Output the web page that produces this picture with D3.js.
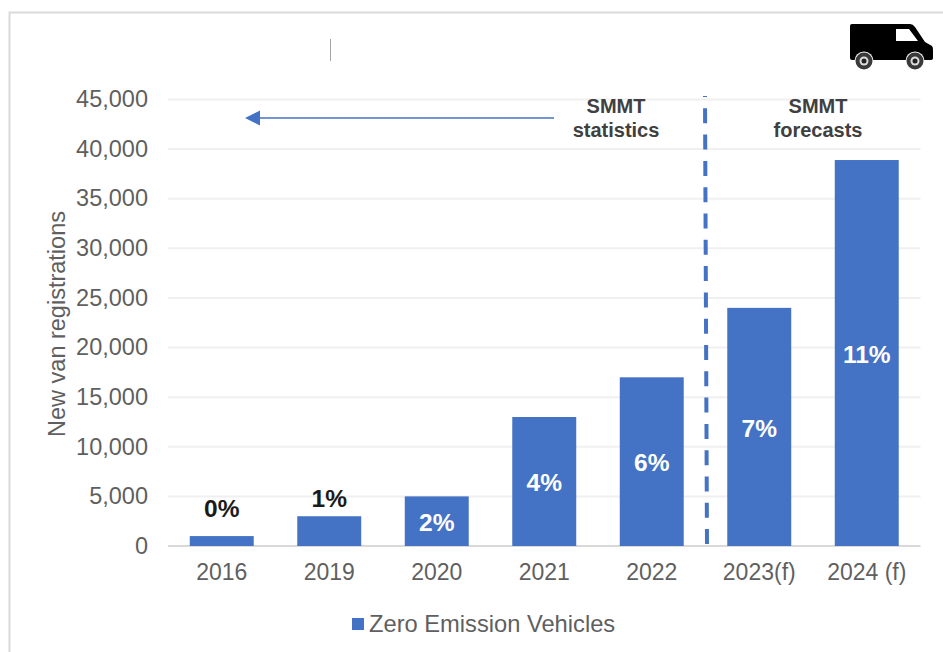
<!DOCTYPE html>
<html><head><meta charset="utf-8">
<script src="https://cdn.jsdelivr.net/npm/d3@7"></script>
<style>html,body{margin:0;padding:0;background:#fff}svg{display:block}text{font-family:"Liberation Sans",Arial,sans-serif}</style>
</head><body><svg id="c" width="943" height="652"></svg>
<script>
const categories = ["2016","2019","2020","2021","2022","2023(f)","2024 (f)"];
const values = [1000,3000,5000,13000,17000,24000,38900];
const shareLabels = ["0%","1%","2%","4%","6%","7%","11%"];
const yTicks = [0,5000,10000,15000,20000,25000,30000,35000,40000,45000];
const seriesName = "Zero Emission Vehicles";
const yTitle = "New van registrations";

const svg = d3.select("#c");
const BLUE = "#4472c4", GREY = "#5f5f5f";
const x = d3.scaleBand().domain(categories).range([168,920.5]).paddingInner(0.405).paddingOuter(0.2025);
const y = d3.scaleLinear().domain([0,45000]).range([546,99.5]);

// frame
svg.append("path").attr("d","M9.5,652V12.5H943").attr("fill","none").attr("stroke","#d9d9d9").attr("stroke-width",2);
svg.append("line").attr("x1",330.5).attr("x2",330.5).attr("y1",39).attr("y2",61).attr("stroke","#a6a6a6");

// gridlines
svg.append("g").selectAll("line").data(yTicks).join("line")
  .attr("x1",168).attr("x2",920.5).attr("y1",d=>y(d)).attr("y2",d=>y(d))
  .attr("stroke",d=>d===0?"#d9d9d9":"#f0f0f0").attr("stroke-width",2);

// axes
const yAxis = svg.append("g").attr("transform","translate(148,-1)")
  .call(d3.axisLeft(y).tickValues(yTicks).tickFormat(d3.format(",")).tickSize(0).tickPadding(0));
yAxis.select(".domain").remove();
yAxis.selectAll("text").attr("font-size",23.5).attr("fill",GREY).style("font-family",'"Liberation Sans",Arial,sans-serif').attr("dy","0.35em");
const xAxis = svg.append("g").attr("transform","translate(0,546)")
  .call(d3.axisBottom(x).tickSize(0).tickPadding(0));
xAxis.select(".domain").remove();
xAxis.selectAll("text").attr("font-size",23).attr("fill",GREY).style("font-family",'"Liberation Sans",Arial,sans-serif').attr("y",18);

// axis title
svg.append("text").attr("transform","translate(65,324) rotate(-90)").attr("text-anchor","middle")
  .attr("font-size",23.5).attr("fill",GREY).text(yTitle);

// bars
const data = categories.map((c,i)=>({c,v:values[i],l:shareLabels[i]}));
svg.append("g").selectAll("rect").data(data).join("rect")
  .attr("x",d=>x(d.c)).attr("width",x.bandwidth()).attr("y",d=>y(d.v)).attr("height",d=>y(0)-y(d.v)).attr("fill",BLUE);

// share labels
const outsideGap = [28,18];
svg.append("g").selectAll("text").data(data).join("text")
  .attr("x",d=>x(d.c)+x.bandwidth()/2)
  .attr("y",(d,i)=> i<2 ? y(d.v)-outsideGap[i] : y(d.v/2)+1)
  .attr("dy","0.35em").attr("text-anchor","middle").attr("font-size",24.5).attr("font-weight","bold")
  .attr("fill",(d,i)=>i<2?"#1a1a1a":"#fff").text(d=>d.l);

// forecast divider
svg.append("line").attr("x1",705).attr("x2",707).attr("y1",96).attr("y2",546)
  .attr("stroke",BLUE).attr("stroke-width",4).attr("stroke-dasharray","15 11.3").attr("stroke-dashoffset",14);

// arrow
svg.append("line").attr("x1",554).attr("x2",258).attr("y1",118).attr("y2",118).attr("stroke",BLUE).attr("stroke-width",1.5);
svg.append("path").attr("d","M245,118L260,110.5V125.5Z").attr("fill",BLUE);

// annotations
const note = (cx,lines)=>svg.append("text").attr("text-anchor","middle").attr("font-size",20).attr("font-weight","bold").attr("fill","#404040")
  .selectAll("tspan").data(lines).join("tspan").attr("x",cx).attr("y",(d,i)=>113+i*24).text(d=>d);
note(616,["SMMT","statistics"]);
note(818,["SMMT","forecasts"]);

// legend
svg.append("rect").attr("x",352).attr("y",618).attr("width",12).attr("height",12).attr("fill",BLUE);
svg.append("text").attr("x",369).attr("y",632).attr("font-size",23.7).attr("fill",GREY).text(seriesName);

// van icon
const van = svg.append("g");
van.append("path").attr("d","M852,24H910Q913,24 915,27L925,42L932,46Q933,47 933,50V58Q933,60 930,60H852Q850,60 850,58V26Q850,24 852,24Z").attr("fill","#000");
van.append("path").attr("d","M896,29H909L918,41H896Z").attr("fill","#fff");
[864,915].forEach(cx=>{
  van.append("circle").attr("cx",cx).attr("cy",61).attr("r",9.5).attr("fill","#fff");
  van.append("circle").attr("cx",cx).attr("cy",61).attr("r",8.5).attr("fill","#3a3a3a");
  van.append("circle").attr("cx",cx).attr("cy",61).attr("r",4.5).attr("fill","#ddd");
  van.append("circle").attr("cx",cx).attr("cy",61).attr("r",2.5).attr("fill","#222");
});
</script></body></html>
